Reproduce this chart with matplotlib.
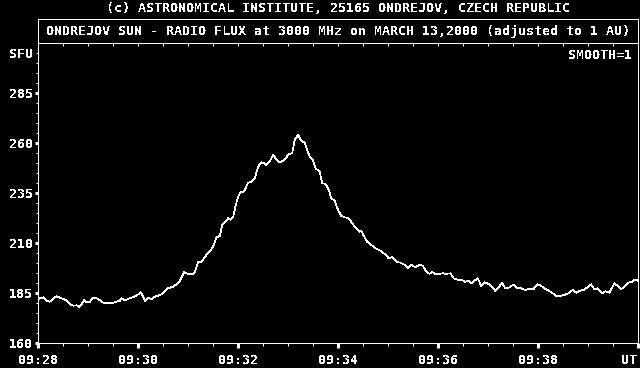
import matplotlib
matplotlib.use("Agg")
import matplotlib.pyplot as plt
import numpy as np

plt.rcParams['font.family'] = ['DejaVu Sans Mono']
plt.rcParams['font.weight'] = 'bold'
plt.rcParams['text.antialiased'] = False

# seconds after 09:28:00 UT
sec = [0, 6, 10, 14, 18, 22, 26, 30, 34, 38, 42, 46, 49, 52, 55, 58, 62, 66, 70, 74,
       78, 84, 90, 94, 98, 100, 104, 108, 112, 116, 120, 123, 126, 128, 132, 136, 140, 144, 148, 152,
       154, 158, 162, 166, 170, 172, 175, 178, 182, 186, 188, 191,
       192, 196, 199, 202, 206, 210, 214, 218, 221, 225, 228, 231, 234, 237, 240, 243, 246, 248,
       252, 256, 260, 264, 268, 271, 274, 278, 282, 285, 290, 294, 298, 301, 305, 308, 312,
       316, 320, 323, 326, 330, 333, 338, 341, 345, 349, 352, 356, 360, 364, 368, 373, 377, 382,
       386, 388, 391, 395, 400, 405, 411, 416, 421, 425, 430, 435, 440, 444, 448, 453, 458, 462,
       466, 470, 473,
       476, 482, 486, 490, 495, 499, 504, 509, 513, 516, 520, 524, 528, 532, 536, 541, 545, 549,
       553, 557, 561, 566, 571, 575, 580, 585, 590, 595, 600, 604, 608, 613, 617, 622, 628, 632,
       637, 642, 646, 651, 655, 660, 664, 668, 672, 677, 681, 686, 692, 696, 700, 704, 709, 713,
       717, 720]
# radio flux (SFU)
flux = [182.2, 183.0, 181.2, 180.8, 182.5, 183.5, 182.8, 182.2, 181.5, 179.5, 178.8, 179.0, 178.2, 179.5, 181.7, 180.5, 180.8, 182.8, 182.5, 181.5,
        180.3, 180.3, 180.3, 180.8, 181.3, 182.5, 181.5, 182.2, 182.8, 183.5, 184.5, 185.5, 183.3, 181.2, 182.8, 182.0, 183.3, 183.8, 184.5, 185.8,
        187.2, 187.8, 188.3, 189.5, 191.2, 192.8, 195.5, 195.0, 194.5, 194.5, 195.5, 199.2,
        200.8, 200.8, 202.5, 204.2, 205.8, 208.3, 213.0, 213.7, 219.2, 220.8, 222.5, 221.7, 223.0, 228.7, 233.3, 235.8, 235.8, 236.7,
        240.3, 240.8, 242.5, 248.3, 250.5, 250.0, 249.2, 250.8, 254.2, 252.5, 250.5, 251.3, 253.0, 254.7, 255.0, 261.7, 264.2,
        261.3, 260.3, 256.7, 253.3, 251.7, 247.5, 245.8, 240.0, 239.7, 236.7, 232.5, 231.3, 226.7, 223.7, 223.0, 222.5, 220.0, 217.5,
        215.8, 216.3, 213.7, 210.8, 209.2, 207.5, 206.3, 204.7, 202.5, 203.0, 200.8, 200.3, 199.2, 197.5, 199.2, 198.0, 199.2, 198.7,
        195.8, 194.7, 195.8,
        194.7, 194.7, 195.0, 194.7, 195.0, 192.5, 191.7, 191.7, 190.7, 191.5, 190.0, 191.3, 192.5, 188.7, 190.5, 189.7, 188.0, 186.2,
        188.0, 190.3, 187.5, 188.0, 189.5, 187.8, 187.5, 186.7, 187.2, 187.2, 189.5, 188.7, 187.5, 186.3, 185.3, 183.8, 183.7, 184.2,
        185.0, 186.7, 185.3, 186.3, 186.7, 188.0, 189.5, 187.0, 187.5, 185.0, 186.0, 185.3, 190.0, 188.7, 187.0, 188.3, 190.3, 190.8,
        192.0, 191.3]

x_ticks = [0, 120, 240, 360, 480, 600, 720]
x_labels = ['09:28', '09:30', '09:32', '09:34', '09:36', '09:38', 'UT']
y_ticks = [160, 185, 210, 235, 260, 285, 305]
y_labels = ['160', '185', '210', '235', '260', '285', 'SFU']

fs = 9.6
lw = 0.72  # one pixel
fig = plt.figure(figsize=(6.4, 3.68), dpi=100, facecolor='black')
ax = fig.add_axes([0.0598, 0.0671, 0.9366, 0.8152], facecolor='black')

ax.plot(sec, flux, color='white', lw=0.5, antialiased=False)
ax.set_xlim(0, 720)
ax.set_ylim(160, 310)

for s in ['left', 'bottom', 'right', 'top']:
    ax.spines[s].set_color('white')
    ax.spines[s].set_linewidth(lw)

ax.set_xticks(x_ticks)
ax.set_xticklabels(x_labels)
ax.set_xticks(np.arange(0, 721, 30), minor=True)
ax.set_yticks(y_ticks)
ax.set_yticklabels(y_labels)
ax.set_yticks(np.arange(165, 310, 5), minor=True)

ax.tick_params(axis='x', which='major', colors='white', length=3.5, width=2.2, pad=4.5, labelsize=fs)
ax.tick_params(axis='x', which='minor', colors='white', length=2.5, width=lw)
ax.tick_params(axis='y', which='major', colors='white', length=2.4, width=2.2, pad=1.5, labelsize=fs)
ax.tick_params(axis='y', which='minor', colors='white', length=1.2, width=lw)
ax.xaxis.get_ticklabels()[-1].set_horizontalalignment('right')
ax.yaxis.get_major_ticks()[-1].tick1line.set_markersize(1.2)
ax.yaxis.get_major_ticks()[-1].tick1line.set_markeredgewidth(lw)

# small ticks under the top frame line
top = ax.secondary_xaxis('top')
top.set_xticks(np.arange(0, 721, 30))
top.tick_params(direction='in', length=2, width=lw, colors='white', labeltop=False)
top.spines['top'].set_visible(False)

ax.text(0.99, 0.96, 'SMOOTH=1', transform=ax.transAxes, color='white',
        fontsize=fs, ha='right', va='center')

# title box
tb = fig.add_axes([0.0598, 0.8823, 0.9366, 0.0653], facecolor='black')
tb.set_xticks([])
tb.set_yticks([])
for s in tb.spines.values():
    s.set_color('white')
    s.set_linewidth(lw)
tb.text(0.5, 0.5, 'ONDREJOV SUN - RADIO FLUX at 3000 MHz on MARCH 13,2000 (adjusted to 1 AU)',
        color='white', fontsize=fs, ha='center', va='center')

fig.text(0.528, 0.978, '(c) ASTRONOMICAL INSTITUTE, 25165 ONDREJOV, CZECH REPUBLIC',
         color='white', fontsize=fs, ha='center', va='center')

fig.savefig('out.png', dpi=100, facecolor='black')
